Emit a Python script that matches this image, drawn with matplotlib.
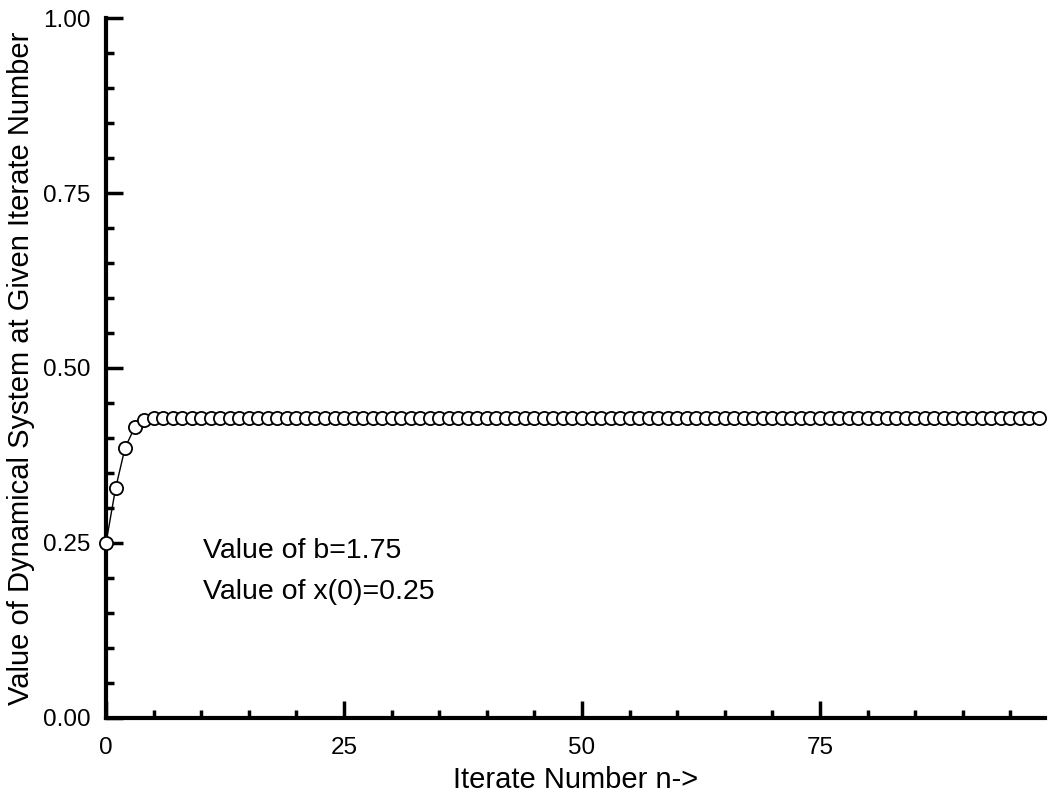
import matplotlib.pyplot as plt
from matplotlib.ticker import MultipleLocator

# iterate values (b=1.75, x(0)=0.25)
x_vals = [0.250, 0.328, 0.386, 0.415, 0.425, 0.428, 0.4285, 0.4286, 0.4286, 0.4286,
          0.4286, 0.4286, 0.4286, 0.4286, 0.4286, 0.4286, 0.4286, 0.4286, 0.4286, 0.4286,
          0.4286, 0.4286, 0.4286, 0.4286, 0.4286, 0.4286, 0.4286, 0.4286, 0.4286, 0.4286,
          0.4286, 0.4286, 0.4286, 0.4286, 0.4286, 0.4286, 0.4286, 0.4286, 0.4286, 0.4286,
          0.4286, 0.4286, 0.4286, 0.4286, 0.4286, 0.4286, 0.4286, 0.4286, 0.4286, 0.4286,
          0.4286, 0.4286, 0.4286, 0.4286, 0.4286, 0.4286, 0.4286, 0.4286, 0.4286, 0.4286,
          0.4286, 0.4286, 0.4286, 0.4286, 0.4286, 0.4286, 0.4286, 0.4286, 0.4286, 0.4286,
          0.4286, 0.4286, 0.4286, 0.4286, 0.4286, 0.4286, 0.4286, 0.4286, 0.4286, 0.4286,
          0.4286, 0.4286, 0.4286, 0.4286, 0.4286, 0.4286, 0.4286, 0.4286, 0.4286, 0.4286,
          0.4286, 0.4286, 0.4286, 0.4286, 0.4286, 0.4286, 0.4286, 0.4286, 0.4286]
n_vals = list(range(len(x_vals)))

x_ticks = [0, 25, 50, 75]
y_ticks = [0.0, 0.25, 0.5, 0.75, 1.0]
notes = ['Value of b=1.75', 'Value of x(0)=0.25']

plt.rcParams['font.family'] = ['Liberation Sans', 'DejaVu Sans']

fig = plt.figure(figsize=(10.52, 7.98), dpi=100)
ax = fig.add_axes([0.1008, 0.1003, 0.8922, 0.8771])

ax.plot(n_vals, x_vals, color='black', lw=1.0, marker='o', ms=9.5,
        mfc='white', mec='black', mew=1.3, clip_on=False, zorder=3)

ax.set_xlim(0, 98.6)
ax.set_ylim(0, 1.0)
ax.set_xticks(x_ticks)
ax.set_yticks(y_ticks)
ax.set_yticklabels(['{:.2f}'.format(v) for v in y_ticks])
ax.xaxis.set_minor_locator(MultipleLocator(5))
ax.yaxis.set_minor_locator(MultipleLocator(0.05))

for s in ['top', 'right']:
    ax.spines[s].set_visible(False)
for s in ['left', 'bottom']:
    ax.spines[s].set_linewidth(3)

ax.tick_params(which='major', direction='in', length=12, width=2.5, labelsize=17.5, pad=11)
ax.tick_params(axis='x', which='major', pad=14)
ax.tick_params(which='minor', direction='in', length=6, width=2.5)

ax.set_xlabel('Iterate Number n->', fontsize=21, labelpad=5)
ax.set_ylabel('Value of Dynamical System at Given Iterate Number', fontsize=21, labelpad=6)

ax.text(10.2, 0.238, notes[0], fontsize=20.5, va='center')
ax.text(10.2, 0.18, notes[1], fontsize=20.5, va='center')

fig.savefig('out.png', dpi=100)
